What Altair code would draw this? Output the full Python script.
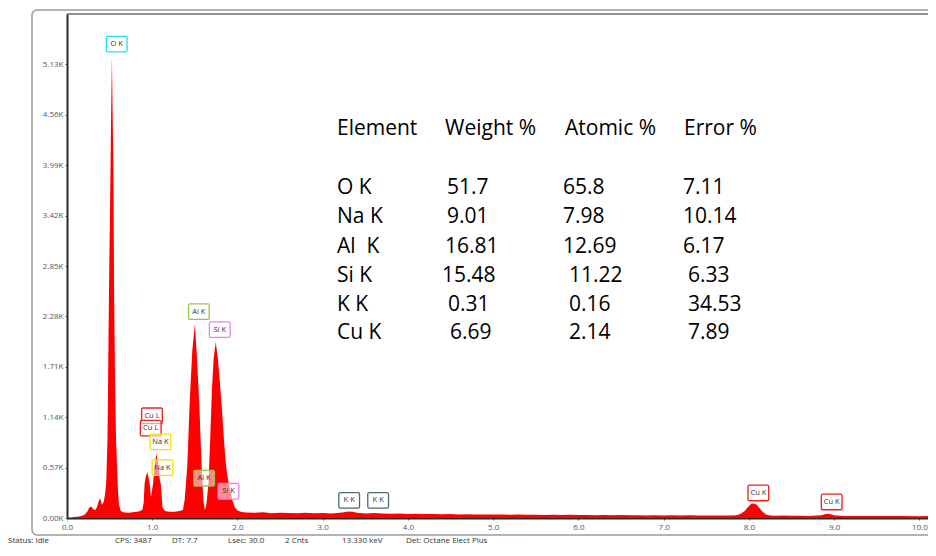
import altair as alt
import pandas as pd

# ---------------- data ----------------
energy_kev = [0.00, 0.06, 0.07, 0.12, 0.17, 0.21, 0.24, 0.26, 0.28, 0.30, 0.32, 0.34, 0.36, 0.38, 0.39,
              0.41, 0.43, 0.445, 0.46, 0.475, 0.493, 0.51, 0.518, 0.527, 0.535, 0.545, 0.552, 0.563,
              0.575, 0.598, 0.61, 0.63, 0.67, 0.72, 0.77, 0.82, 0.86, 0.885, 0.90, 0.91, 0.925, 0.943,
              0.96, 0.97, 0.985, 1.00, 1.01, 1.03, 1.05, 1.07, 1.09, 1.10, 1.12, 1.15, 1.20, 1.26,
              1.32, 1.36, 1.38, 1.41, 1.44, 1.47, 1.50, 1.52, 1.55, 1.58, 1.60, 1.617, 1.635, 1.66,
              1.68, 1.70, 1.72, 1.745, 1.77, 1.80, 1.82, 1.84, 1.86, 1.88, 1.91, 1.94, 1.97, 2.00,
              2.05, 2.10, 2.20, 2.30, 2.40, 2.50, 2.60, 2.70, 2.80, 2.90, 3.00, 3.10, 3.20, 3.25,
              3.30, 3.35, 3.40, 3.50, 3.60, 3.70, 3.80, 3.90, 4.00, 4.10, 4.20, 4.30, 4.40, 4.50,
              4.60, 4.70, 4.80, 4.90, 5.00, 5.10, 5.20, 5.30, 5.40, 5.50, 5.60, 5.70, 5.80, 5.90,
              6.00, 6.10, 6.20, 6.30, 6.40, 6.50, 6.60, 6.70, 6.80, 6.90, 7.00, 7.10, 7.20, 7.30,
              7.40, 7.50, 7.60, 7.70, 7.80, 7.85, 7.90, 7.95, 8.00, 8.03, 8.06, 8.09, 8.12, 8.16,
              8.20, 8.25, 8.30, 8.40, 8.50, 8.60, 8.70, 8.80, 8.85, 8.90, 8.93, 8.96, 9.00, 9.10,
              9.20, 9.40, 9.60, 9.80, 10.00, 10.10]
counts = [0, 0, 10, 15, 22, 40, 75, 115, 130, 110, 90, 95, 150, 210, 220,
          150, 180, 260, 400, 900, 2610, 3900, 4600, 5213, 4600, 3900, 2610, 1600,
          900, 311, 150, 80, 62, 58, 66, 72, 80, 95, 180, 387, 470, 518,
          440, 387, 235, 330, 387, 620, 730, 600, 420, 387, 120, 80, 70, 72,
          78, 90, 200, 575, 1330, 1900, 2190, 1900, 1330, 575, 200, 90, 150, 400,
          900, 1450, 1800, 1990, 1800, 1450, 1200, 900, 650, 480, 330, 200, 120, 85,
          68, 62, 58, 64, 55, 60, 57, 54, 60, 53, 57, 52, 58, 66,
          74, 70, 60, 52, 56, 50, 49, 51, 46, 48, 44, 46, 43, 45,
          41, 43, 40, 41, 39, 40, 37, 39, 36, 38, 35, 37, 34, 36,
          33, 35, 32, 34, 31, 33, 30, 32, 29, 31, 29, 30, 28, 30,
          27, 29, 27, 29, 28, 32, 45, 80, 135, 160, 165, 150, 115, 70,
          40, 28, 26, 27, 25, 26, 24, 27, 32, 44, 48, 42, 30, 24,
          23, 24, 22, 23, 21, 22]

peak_labels = ["O K", "Al K", "Si K", "Cu L", "Cu L", "Na K", "Na K", "Al K", "Si K",
               "K K", "K K", "Cu K", "Cu K"]
peak_elements = ["O", "Al", "Si", "Cu", "Cu", "Na", "Na", "Al", "Si", "K", "K", "Cu", "Cu"]
label_kev = [0.583, 1.547, 1.792, 0.997, 0.982, 1.096, 1.12, 1.608, 1.894, 3.31, 3.65, 8.11, 8.97]
label_counts = [5360, 2334, 2130, 1156, 1016, 861, 570, 450, 302, 200, 200, 283, 181]

element_names = ["O", "Na", "Al", "Si", "K", "Cu"]
element_colors = ["#22e0f0", "#f0e400", "#9cc449", "#ee80ee", "#4d6b6b", "#ee2020"]

y_tick_values = [0, 570, 1140, 1710, 2280, 2850, 3420, 3990, 4560, 5130]
x_tick_values = [0, 1, 2, 3, 4, 5, 6, 7, 8, 9, 10]

table_header = ["Element", "Weight %", "Atomic %", "Error %"]
table_element = ["O K", "Na K", "Al\u00a0\u00a0K", "Si K", "K K", "Cu K"]
table_weight = ["51.7", "9.01", "16.81", "15.48", "0.31", "6.69"]
table_atomic = ["65.8", "7.98", "12.69", "11.22", "0.16", "2.14"]
table_error = ["7.11", "10.14", "6.17", "6.33", "34.53", "7.89"]

status_items = ["Status: Idle", "CPS: 3487", "DT: 7.7", "Lsec: 30.0", "2 Cnts",
                "13.330 keV", "Det: Octane Elect Plus"]

# ---------------- layout (pixels) ----------------
W, H = 861, 504
X0, Y0 = 67, 14          # page position of the plot origin
FONT = "Open Sans"

header_x = [337, 445, 565, 684]
header_y = 129
row_y = [188, 217, 247, 276, 305, 333]
col_x = [
    [337] * 6,
    [447, 447, 445, 442, 448, 450],
    [563, 563, 563, 569, 569, 569],
    [683, 683, 683, 688, 688, 688],
]
status_x = [8, 115, 172, 228, 285, 342, 406]
status_y = 541

# ---------------- chart ----------------
spec = pd.DataFrame({"energy": energy_kev, "counts": counts})
lab = pd.DataFrame({"text": peak_labels, "element": peak_elements,
                    "energy": label_kev, "counts": label_counts})

x_scale = alt.Scale(domain=[0, 10.1], nice=False, zero=False)
y_scale = alt.Scale(domain=[0, 5700], nice=False)

x_axis = alt.Axis(values=x_tick_values, format=".1f", title=None, grid=False,
                  labelFont=FONT, labelFontSize=8, labelColor="#555",
                  tickSize=2, tickColor="#666", domainColor="#2a2a2a", domainWidth=2,
                  labelPadding=3, labelFlush=False)
y_axis = alt.Axis(values=y_tick_values, labelExpr="format(datum.value/1000,'.2f')+'K'",
                  title=None, grid=False, labelFont=FONT, labelFontSize=8, labelColor="#555",
                  tickSize=2, tickColor="#666", domainColor="#2a2a2a", domainWidth=2,
                  labelPadding=2, labelFlush=False)

area = alt.Chart(spec).mark_area(color="#ff0000", interpolate="linear").encode(
    x=alt.X("energy:Q", scale=x_scale, axis=x_axis),
    y=alt.Y("counts:Q", scale=y_scale, axis=y_axis),
)

box_path = ("M-0.85,-0.75H0.85Q1,-0.75 1,-0.6V0.6Q1,0.75 0.85,0.75H-0.85"
            "Q-1,0.75 -1,0.6V-0.6Q-1,-0.75 -0.85,-0.75Z")
boxes = alt.Chart(lab).mark_point(shape=box_path, size=430, filled=False, fill="#ffffff",
                                   fillOpacity=0.55, strokeWidth=1.3, opacity=1).encode(
    x=alt.X("energy:Q", scale=x_scale),
    y=alt.Y("counts:Q", scale=y_scale),
    stroke=alt.Stroke("element:N", scale=alt.Scale(domain=element_names, range=element_colors),
                      legend=None),
)
box_text = alt.Chart(lab).mark_text(font=FONT, fontSize=7.5, color="#333").encode(
    x=alt.X("energy:Q", scale=x_scale),
    y=alt.Y("counts:Q", scale=y_scale),
    text="text:N",
)

one = alt.Data(values=[{}])

frame = alt.Chart(one).mark_rect(fillOpacity=0, stroke="#9a9a9a", strokeWidth=1.5,
                                 cornerRadius=5).encode(
    x=alt.value(32 - X0), x2=alt.value(W + 40), y=alt.value(10 - Y0), y2=alt.value(535 - Y0))
top_line = alt.Chart(one).mark_rule(color="#222", strokeWidth=1).encode(
    x=alt.value(0), x2=alt.value(W + 20), y=alt.value(0))


def label(text, px, py, size, color="#000", font=FONT):
    return alt.Chart(one).mark_text(text=text, font=font, fontSize=size, color=color,
                                    align="left", baseline="middle").encode(
        x=alt.value(px - X0), y=alt.value(py - Y0))


table_layers = [label(h, header_x[i], header_y, 21) for i, h in enumerate(table_header)]
columns = [table_element, table_weight, table_atomic, table_error]
for c, col in enumerate(columns):
    for r, v in enumerate(col):
        table_layers.append(label(v, col_x[c][r], row_y[r], 21))

status_layers = [label(s, status_x[i], status_y, 8, color="#333")
                 for i, s in enumerate(status_items)]

chart = alt.layer(frame, top_line, area, boxes, box_text, *table_layers, *status_layers).properties(
    width=W, height=H,
    autosize=alt.AutoSizeParams(type="none"),
    padding={"left": X0 - 8, "top": Y0 - 8, "right": 0, "bottom": 540 - (Y0 - 8) - H},
    background="white",
).configure_view(stroke=None)

chart.save("out.html", embed_options={"renderer": "svg", "actions": False})
